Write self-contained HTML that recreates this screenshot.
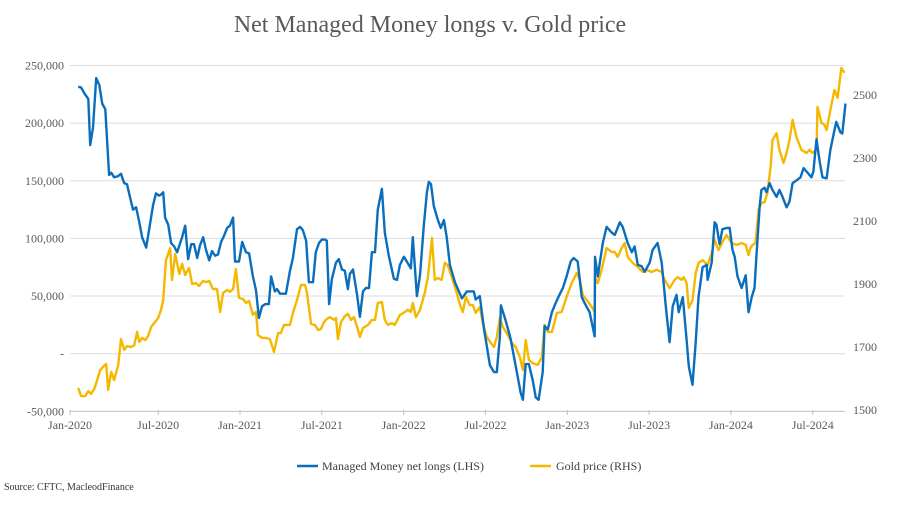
<!DOCTYPE html>
<html><head><meta charset="utf-8"><style>
body{margin:0;background:#fff;width:902px;height:500px;overflow:hidden;font-family:"Liberation Serif",serif}
</style></head><body>
<svg id="chart" width="902" height="500" xmlns="http://www.w3.org/2000/svg" font-family="Liberation Serif, serif">
<text x="430" y="32" text-anchor="middle" font-size="24" fill="#595959">Net Managed Money longs v. Gold price</text>
<g id="grid"></g><g id="axes"></g><g id="series"></g>
<g>
<line x1="297" y1="466" x2="318" y2="466" stroke="#0a6ebd" stroke-width="2.5"/>
<text x="322" y="470" font-size="12" fill="#404040">Managed Money net longs (LHS)</text>
<line x1="530" y1="466" x2="551" y2="466" stroke="#f5b800" stroke-width="2.5"/>
<text x="556" y="470" font-size="12" fill="#404040">Gold price (RHS)</text>
</g>
<text x="4" y="490" font-size="10" fill="#333">Source: CFTC, MacleodFinance</text>
</svg>
<script>
const leftTicks=[250000,200000,150000,100000,50000,0,-50000];
const leftTickLabels=["250,000","200,000","150,000","100,000","50,000","-","-50,000"];
const rightTicks=[2500,2300,2100,1900,1700,1500];
const xTickWeeks=[-1,27,53,79,105,131,157,183,209,235];
const xTickLabels=["Jan-2020","Jul-2020","Jan-2021","Jul-2021","Jan-2022","Jul-2022","Jan-2023","Jul-2023","Jan-2024","Jul-2024"];
const mmWeeks=[1.6,2.5,3.5,4.8,5.4,6.3,7.3,8.3,9.2,10.2,11.4,12.1,13,14.3,15.2,16.2,17.1,18.1,19,20,21,21.9,23.2,24.1,25.4,26.3,27.3,27.9,28.6,29.2,30.2,31.1,32.1,33,34,34.6,35.6,36.5,37.5,38.4,39.4,40.3,41.3,42.2,43.2,44.1,45.1,46,47,47.9,48.9,49.8,50.8,51.4,52.7,53.7,54.9,55.9,57.1,58.1,59,60,61,62.2,62.9,64.1,64.8,65.7,66.7,67.6,68.9,69.8,71.1,72.1,73,74,74.9,76.2,77.1,78.1,79,80,80.6,81.3,82.2,83.5,84.4,85.4,86.3,87.3,87.9,88.9,90.2,91.1,92.1,93,94,94.9,95.9,96.8,98.1,99,100.3,101.9,102.9,103.8,105.1,106,107.3,107.9,109.2,110.2,111.4,112.4,113,113.7,114.6,115.9,116.8,117.8,118.7,119.7,121.3,123.5,125.1,126,127.3,127.9,129.2,130.5,132.4,133.7,134.6,135.6,135.9,137.5,139,140,141.3,142.2,142.9,143.8,144.8,146,147,147.9,149.2,149.8,150.8,152.1,153,154.3,155.6,156.8,158.1,159,160.3,161.6,162.5,164.1,165.7,165.8,166.7,168.3,169.5,171.1,172.1,173.7,174.6,176.2,177.5,178.4,179.4,180.6,181.6,183.2,184.1,185.7,187,188.3,189.5,190.5,191.7,192.4,193.7,194.9,195.6,196.8,197.8,198.7,200,201.3,201.6,202.9,203.8,204.4,205.4,206.3,207.6,208.6,209.5,210.2,211.1,212.4,213.7,214.6,215.6,216.5,217.1,218.1,218.7,219.7,220.3,221.3,222.2,223.5,224.4,225.4,226.7,227.6,228.6,230.2,231.1,232.1,233,234.6,235.2,236.2,237.1,238.1,239.4,240.6,241.9,242.5,243.8,244.4,245.4];
const mmValues=[231.5,231,226,221,181,196,239,233,217,212,155,157,153,154,156,148,147,135,125,127,114,101,92,107,129,139,137,138,140,118,112,96,93,88,96,101,111,82,95,95,83,94,101,90,81,89,85,86,97,102,109,111,118,80,80,97,88,87,67,55,31,41,43,43,67,54,56,52,52,52,72,83,108,110,107,98,62,62,88,96,99,99,98,43,65,79,82,73,72,56,69,73,51,32,54,57,57,88,88,125,143,105,85,65,64,77,84,80,74,101,50,68,111,140,149,147,128,116,109,116,101,77,62,48,54,54,54,47,50,22,-10,-16,-16,15,42,28,13,-2,-21,-34,-40,-9,-9,-23,-38,-40,-16,24,21,36,42,50,57,67,80,83,80,49,44,36,15,84,67,96,110,105,103,114,110,96,88,93,77,76,71,79,90,96,79,41,10,41,51,36,49,12,-11,-27,10,49,75,77,64,79,114,112,95,108,109,109,90,84,67,57,68,36,49,57,84,127,142,144,140,148,142,136,142,136,127,132,148,151,153,161,158,153,158,186,168,153,152,177,194,201,192,191,217];
const goldWeeks=[1.6,2.5,3.8,4.8,5.7,6.7,7.6,8.6,9.5,10.5,11.1,12.1,13,14.3,15.2,16.2,17.1,18.4,19.4,20.3,21,21.9,22.9,23.8,24.8,26,27,27.9,28.6,29.5,30.8,31.4,32.4,33.7,34.6,35.6,36.8,37.8,39,40,41.3,42.2,43.2,44.4,45.7,46.7,47.6,48.9,49.8,50.8,51.7,52.7,54,54.9,55.9,57.1,58.1,58.7,60,61.3,62.5,63.8,65.1,66,67,67.9,68.9,69.8,71.1,72.4,73.7,74.3,75.6,76.8,77.8,78.7,79.7,80.6,81.6,82.9,83.5,84.1,85.1,86.3,87.3,88.3,89.2,90.2,91.1,92.1,93.7,94.9,95.9,96.8,98.1,99,100,101.3,102.2,103.8,105.4,106.3,107.3,107.9,108.9,110.2,111.7,112.7,114,114.9,115.9,117.1,118.1,119,120.3,121.9,122.9,123.8,124.8,126,127,127.9,129.2,130.2,131.4,132.7,133.7,134.6,135.6,136.5,138.1,139.4,140.6,141.9,142.9,143.8,144.8,146,147.6,148.9,149.8,150.8,152.1,153.7,155.2,156.8,158.4,160,161,161.9,163.2,164.8,165.7,165.8,166.7,167.9,169.5,171.1,172.1,173,174.3,175.2,176.2,177.8,179.4,181,182.2,183.8,185.4,187,187.9,189.5,191.1,192.1,193.3,194,194.9,195.6,196.8,197.8,198.7,200,201.6,202.9,203.8,205.1,206.3,207.6,209.2,210.8,212.4,213.7,214.6,215.2,215.9,216.8,217.8,218.7,219.7,220.6,221.6,222.2,223.5,224.4,225.7,226.7,227.6,228.6,229.8,231.4,233,234,234.9,236.2,236.5,237.8,238.7,239.4,240.6,241.9,242.9,244.1,245.1];
const goldValues=[1570,1544,1544,1560,1551,1567,1595,1627,1637,1646,1564,1621,1595,1643,1725,1691,1703,1700,1706,1748,1716,1729,1722,1735,1764,1779,1792,1818,1849,1976,2014,1913,1995,1932,1964,1929,1951,1900,1903,1894,1910,1906,1910,1884,1884,1811,1871,1881,1875,1884,1948,1856,1852,1840,1846,1802,1811,1738,1729,1729,1725,1684,1744,1744,1770,1770,1770,1808,1849,1897,1897,1871,1773,1770,1754,1757,1779,1789,1795,1786,1792,1725,1779,1798,1805,1786,1795,1764,1732,1760,1770,1786,1786,1840,1843,1786,1770,1776,1770,1802,1811,1818,1811,1840,1795,1818,1871,1922,2046,1913,1919,1913,1967,1960,1922,1871,1833,1811,1859,1833,1833,1808,1827,1776,1732,1713,1700,1732,1792,1764,1738,1713,1700,1668,1627,1722,1659,1649,1643,1668,1770,1748,1748,1808,1811,1859,1903,1935,1913,1865,1849,1827,1811,1922,1903,1945,2014,2002,2002,1986,2014,2030,1986,1967,1954,1938,1945,1938,1945,1938,1913,1887,1913,1922,1913,1922,1903,1824,1849,1935,1967,1976,1960,1998,2040,2008,2033,2056,2030,2024,2030,2024,1992,2014,2024,2030,2135,2157,2160,2189,2272,2357,2379,2326,2284,2316,2357,2421,2367,2326,2316,2326,2316,2326,2462,2411,2405,2389,2453,2516,2491,2586,2570];

const NS="http://www.w3.org/2000/svg";
const X0=70,X1=845;
function xS(w){return 73.2+w*3.147;}
function yL(v){return 353.7-v*0.001153;}
function yR(g){return 410-(g-1500)*0.315;}
function mk(tag,attrs,parent){const e=document.createElementNS(NS,tag);for(const k in attrs)e.setAttribute(k,attrs[k]);parent.appendChild(e);return e;}
const grid=document.getElementById('grid'),axes=document.getElementById('axes'),series=document.getElementById('series');
leftTicks.forEach((t,i)=>{
  const y=yL(t);
  const gl=mk('line',{x1:X0,x2:X1,y1:y,y2:y,stroke:t===-50000?'#bfbfbf':'#dcdcdc','stroke-width':1},grid);
  
  
  const tx=mk('text',{x:64,y:y+4,'text-anchor':'end','font-size':12,fill:'#595959'},axes);
  tx.textContent=leftTickLabels[i];
  
  
});
rightTicks.forEach(t=>{
  const tx=mk('text',{x:853,y:yR(t)+4,'font-size':12,fill:'#595959'},axes);
  tx.textContent=String(t);
  
  
});
xTickWeeks.forEach((w,i)=>{
  const x=xS(w);
  const tk=mk('line',{x1:x,x2:x,y1:410,y2:415,stroke:'#bfbfbf'},axes);
  
  
  const tx=mk('text',{x:x,y:429,'text-anchor':'middle','font-size':12,fill:'#595959'},axes);
  tx.textContent=xTickLabels[i];
  
  
});
function line(ws,vs,yf,color,name){
  const d=ws.map((w,i)=>(i?'L':'M')+xS(w).toFixed(1)+','+yf(vs[i]).toFixed(1)).join(' ');
  const p=mk('path',{d:d,fill:'none',stroke:color,'stroke-width':2.4,'stroke-linejoin':'round'},series);
  
  
}
line(goldWeeks,goldValues,yR,'#f5b800','gold-price-line');
line(mmWeeks,mmValues.map(v=>v*1000),yL,'#0a6ebd','managed-money-line');
</script>
</body></html>
